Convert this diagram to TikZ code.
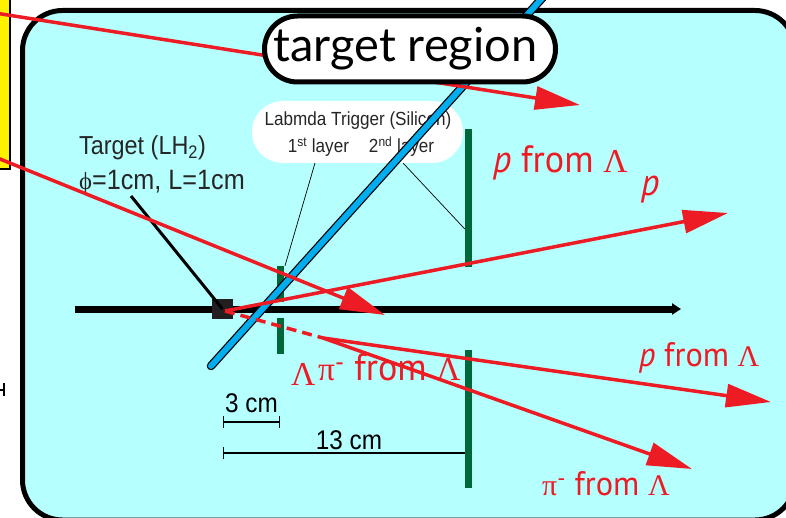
\documentclass[tikz,border=0pt]{standalone}
\usepackage{fontspec}
\setmainfont{Liberation Sans}
\newfontfamily\narrowfont[FakeStretch=0.9]{Liberation Sans}
\newfontfamily\titlefont{Lato}
\newfontfamily\redfont[FakeStretch=0.95]{PT Sans}
\newfontfamily\greekfont[Scale=0.88]{Liberation Serif}
\usetikzlibrary{arrows.meta,positioning}
\definecolor{regionFill}{RGB}{181,255,255}
\definecolor{barBlue}{RGB}{0,174,239}
\definecolor{layerGreen}{RGB}{0,104,56}
\definecolor{trackRed}{RGB}{237,28,36}
\definecolor{targetInk}{RGB}{35,31,32}
\definecolor{sideYellow}{RGB}{255,242,0}
\tikzset{
  regionbox/.style={draw=black, line width=5pt, rounded corners=40pt, fill=regionFill, minimum width=772.5pt, minimum height=509.5pt},
  titlebox/.style={draw=black, line width=5pt, rounded corners=33pt, fill=white, minimum width=291pt, minimum height=66pt, font=\titlefont\fontsize{47}{47}\selectfont},
  bubble/.style={rounded corners=31pt, fill=white, minimum width=211pt, minimum height=62pt},
  layerbar/.style={fill=layerGreen, inner sep=0pt, minimum width=7pt},
  inktext/.style={inner sep=0pt, text=black!85, anchor=west, font=\narrowfont\fontsize{26}{26}\selectfont},
  smalltext/.style={inner sep=0pt, text=black!85, font=\narrowfont\fontsize{19}{19}\selectfont},
  dimtext/.style={inner sep=0pt, text=black, font=\narrowfont\fontsize{27}{27}\selectfont},
  redtext/.style={inner sep=0pt, text=trackRed, anchor=west, font=\redfont\fontsize{38}{38}\selectfont},
  lowtext/.style={redtext, font=\redfont\fontsize{34}{34}\selectfont},
  track/.style={-{Triangle[length=45pt, width=23pt]}, line width=3.5pt, draw=trackRed},
  leader/.style={draw=black, line width=0.7pt},
  dimline/.style={draw=black, line width=1.2pt}
}
\begin{document}
\begin{tikzpicture}[x=1pt, y=-1pt]
  \useasboundingbox (0,0) rectangle (786,518);
  \clip (0,0) rectangle (786,518);
  \node[regionbox] (region) at (408.75,265.25) {};
  \node[draw=black, line width=1.5pt, fill=sideYellow, minimum width=20pt, minimum height=180pt, inner sep=0pt] (side) at (0,79) {};
  % free ends of the tracks and bars
  \coordinate (farA) at (-5,13);
  \coordinate (tipA) at (580,105);
  \coordinate (farB) at (-5,157);
  \coordinate (tipB) at (385,315);
  \coordinate (vertex) at (225,311);
  \coordinate (decay) at (323,338);
  \coordinate (tipP) at (728,213);
  \coordinate (tipPL) at (771,402);
  \coordinate (tipPi) at (692,469);
  \coordinate (barLow) at (211,366);
  \coordinate (barHigh) at (545,-5);
  \coordinate (beamIn) at (75,309);
  \coordinate (beamOut) at (681,309);
  \node[bubble] (trigger) at (357.5,132) {};
  \node[smalltext] (triggerA) at (358,121) {Labmda Trigger (Silicon)};
  \node[smalltext] (triggerB) at (361,146.5) {1\textsuperscript{st} layer\hspace{20pt}2\textsuperscript{nd} layer};
  \node[layerbar, minimum height=36pt] (firstUp) at (280.5,284) {};
  \node[layerbar, minimum height=36pt] (firstLow) at (280.5,336) {};
  \node[layerbar, minimum height=138pt] (secondUp) at (468.5,198) {};
  \node[layerbar, minimum height=138pt] (secondLow) at (468.5,419) {};
  \node[inktext] (targetA) at (79,148) {Target (LH\textsubscript{2})};
  \node[inktext, font=\narrowfont\fontsize{28}{28}\selectfont] (targetB) at (79,182) {{\greekfont ϕ}=1cm, L=1cm};
  \node[dimtext] (dimA) at (251.5,403) {3 cm};
  \node[dimtext] (dimB) at (349,440) {13 cm};
  \node[redtext] (labelA) at (493,162.5) {\textit{p} from {\greekfont Λ}};
  \node[redtext] (labelB) at (641,190) {\textit{p}};
  \node[redtext] (labelC) at (291,374) {{\greekfont Λ}};
  \node[redtext] (labelD) at (318,367) {{\greekfont π}\textsuperscript{-} from {\greekfont Λ}};
  \node[lowtext] (labelE) at (639,358) {\textit{p} from {\greekfont Λ}};
  \node[lowtext] (labelF) at (542,484) {{\greekfont π}\textsuperscript{-} from {\greekfont Λ}};
  \draw[leader] (315,163) -- (firstUp.north -| 285,0);
  \draw[leader] (403,163) -- (secondUp.west |- 0,229);
  \draw[-{Triangle[length=9pt, width=11pt]}, line width=7pt, draw=black] (beamIn) -- (beamOut);
  \node[fill=targetInk, inner sep=0pt, minimum size=20.5pt] (target) at (222.5,309) {};
  \draw[line width=3pt, draw=black] (131,196) -- (target.center);
  \draw[line width=8.5pt, draw=black, line cap=round] (barLow) -- (barHigh);
  \draw[line width=6pt, draw=barBlue, line cap=round] (barLow) -- (barHigh);
  \draw[dimline, {Bar[width=12pt,length=1.2pt]}-{Bar[width=12pt,length=1.2pt]}] (223,422) -- (280,422);
  \draw[dimline, {Bar[width=12pt,length=1.2pt]}-] (223,453) -- (secondLow.west |- 0,453);
  \draw[dimline] (-2,390) -- (4,390);
  \draw[dimline] (4,383) -- (4,396);
  \draw[track] (farA) -- (tipA);
  \draw[track] (farB) -- (tipB);
  \draw[track] (vertex) -- (tipP);
  \draw[line width=3.5pt, draw=trackRed, dash pattern=on 10pt off 6pt] (vertex) -- (decay);
  \draw[track] (decay) -- (tipPL);
  \draw[track] (decay) -- (tipPi);
  \node[titlebox] (title) at (410,49) {\hspace*{-9pt}target region};
\end{tikzpicture}
\end{document}
